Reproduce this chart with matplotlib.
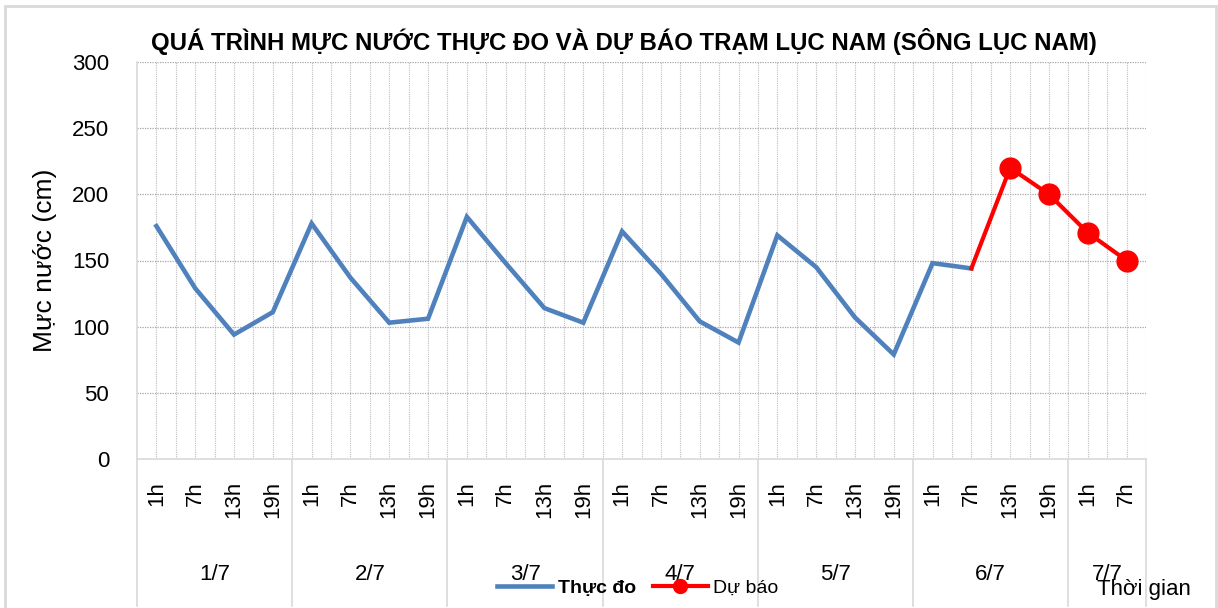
import matplotlib
matplotlib.use("Agg")
import matplotlib.pyplot as plt
from matplotlib.lines import Line2D
from matplotlib.patches import Rectangle
import matplotlib.transforms as mtransforms

plt.rcParams['font.family'] = ['Liberation Sans', 'DejaVu Sans']

# data
days = ['1/7', '2/7', '3/7', '4/7', '5/7', '6/7', '7/7']
hours = ['1h', '7h', '13h', '19h'] * 6 + ['1h', '7h']
observed = [176, 129, 94, 111,
            178, 137, 103, 106,
            183, 148, 114, 103,
            172, 140, 104, 88,
            169, 145, 107, 79,
            148, 144]
forecast = [144, 220, 200, 171, 150]   # starts at 6/7 7h

blue = '#4F81BD'
red = '#FF0000'
grid_c = '#bfbfbf'

fig = plt.figure(figsize=(12.18, 6.08), dpi=100)
ax = fig.add_axes([137 / 1218, 1 - 459 / 608, (1146 - 137) / 1218, (459 - 62) / 608])

n = len(hours)
x_obs = list(range(len(observed)))
x_fc = list(range(len(observed) - 1, len(observed) - 1 + len(forecast)))

ax.plot(x_obs, observed, color=blue, lw=3.3, solid_joinstyle='miter', zorder=3)
ax.plot(x_fc, forecast, color=red, lw=3.0, marker='o', markersize=15,
        markevery=list(range(1, len(forecast))), zorder=4)

ax.set_xlim(-0.5, n - 0.5)
ax.set_ylim(0, 300)
ax.set_yticks(range(0, 301, 50))
ax.tick_params(axis='y', length=0, pad=20, labelsize=16)

# vertical grid every half category
for k in range(2 * n + 1):
    xv = -0.5 + k * 0.5
    if xv > -0.5:
        ax.axvline(xv, color=grid_c, lw=0.8, ls=(0, (1, 1)), zorder=1)
for yv in range(50, 301, 50):
    ax.axhline(yv, color='#a6a6a6', lw=0.9, ls=(0, (1, 1)), zorder=1)

for s in ['top', 'right']:
    ax.spines[s].set_visible(False)
ax.spines['left'].set_color('#d9d9d9')
ax.spines['bottom'].set_color('#d9d9d9')
ax.spines['left'].set_linewidth(1.2)
ax.spines['bottom'].set_linewidth(1.2)

ax.set_xticks(range(n))
ax.set_xticklabels(hours, rotation=90, fontsize=16)
ax.tick_params(axis='x', length=0, pad=16)

# day groups
trans = mtransforms.blended_transform_factory(ax.transData, ax.transAxes)
starts = list(range(0, n, 4))
for i, d in enumerate(days):
    s = starts[i]
    e = min(s + 4, n)
    ax.text((s + e - 1) / 2, -0.29, d, transform=trans, ha='center', va='center',
            fontsize=16)
bounds = [s - 0.5 for s in starts] + [n - 0.5]
for b in bounds:
    ax.add_line(Line2D([b, b], [0, -0.37], transform=trans, color='#d9d9d9',
                       lw=1.2, clip_on=False))

# titles and labels
fig.text(0.512, 0.931, 'QUÁ TRÌNH MỰC NƯỚC THỰC ĐO VÀ DỰ BÁO TRẠM LỤC NAM (SÔNG LỤC NAM)',
         ha='center', va='center', fontsize=17.3, fontweight='bold')
fig.text(0.037, 0.572, 'Mực nước (cm)', rotation=90, ha='center', va='center', fontsize=19)
fig.text(1097 / 1218, 1 - 590 / 608, 'Thời gian', ha='left', va='center', fontsize=16)

h1 = Line2D([], [], color=blue, lw=3.3)
h2 = Line2D([], [], color=red, lw=3.0, marker='o', markersize=10)
leg = fig.legend([h1, h2], ['Thực đo', 'Dự báo'], loc='center', ncol=2,
                 bbox_to_anchor=(638 / 1218, 1 - 588 / 608), frameon=False,
                 fontsize=14, handlelength=2.8, handletextpad=0.3, columnspacing=0.9,
                 borderaxespad=0, borderpad=0)
leg.get_texts()[0].set_fontweight('bold')

fig.patches.append(Rectangle((5 / 1218, -0.05), 1211 / 1218, 1.05 - 6 / 608,
                             transform=fig.transFigure, fill=False,
                             edgecolor='#d9d9d9', lw=2))

fig.savefig('out.png', dpi=100)
